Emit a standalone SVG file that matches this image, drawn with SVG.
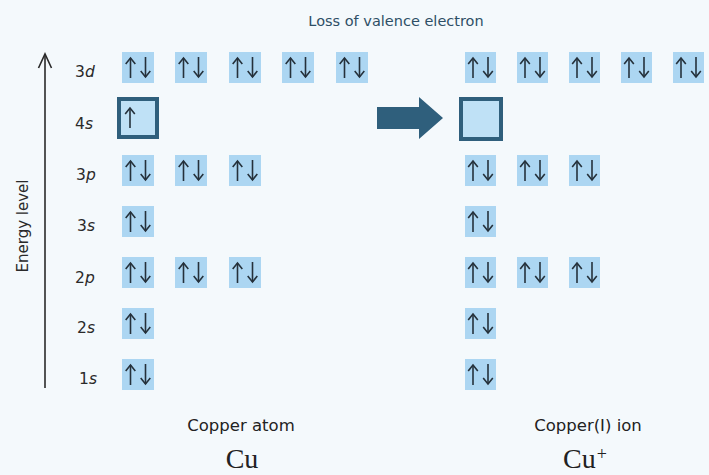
<svg xmlns="http://www.w3.org/2000/svg" xmlns:xlink="http://www.w3.org/1999/xlink" width="709" height="475" viewBox="0 0 709 475">
  <style>
    .orb { fill: #acd6f2; }
    .arr { fill: none; stroke: #25313b; stroke-width: 1.6; stroke-linejoin: miter; }
    .lvl { font-family: "DejaVu Sans", sans-serif; font-size: 15.5px; fill: #2a2a2a; }
    .lvl tspan { font-style: italic; }
    .cap { font-family: "DejaVu Sans", sans-serif; font-size: 16.5px; fill: #222; text-anchor: middle; }
    .sym { font-family: "Liberation Serif", serif; font-size: 28px; fill: #222; }
    .half { fill: #bfe1f6; stroke: #2f5f7c; stroke-width: 4; }
    .title { font-family: "DejaVu Sans", sans-serif; font-size: 14.5px; fill: #2e4f66; text-anchor: middle; }
  </style>
  <defs>
    <!-- single spin arrows, drawn around x = 0 -->
    <g id="up" class="arr">
      <line x1="0" y1="21" x2="0" y2="1"/>
      <polyline points="-4.8,7 0,1 4.8,7"/>
    </g>
    <g id="down" class="arr">
      <line x1="0" y1="0" x2="0" y2="20"/>
      <polyline points="-4.8,14 0,20 4.8,14"/>
    </g>
    <g id="pairL">
      <rect class="orb" x="0" y="0" width="32" height="31"/>
      <use xlink:href="#up" x="8.5" y="5"/>
      <use xlink:href="#down" x="23.5" y="5"/>
    </g>
    <g id="pairR">
      <rect class="orb" x="0" y="0" width="31" height="31"/>
      <use xlink:href="#up" x="8" y="5"/>
      <use xlink:href="#down" x="23" y="5"/>
    </g>
  </defs>

  <rect width="709" height="475" fill="#f4f9fc"/>

  <text class="title" x="396" y="26">Loss of valence electron</text>

  <!-- energy axis -->
  <g id="axis">
    <line x1="45" y1="54" x2="45" y2="388" stroke="#2a2a2a" stroke-width="1.6"/>
    <polyline points="38.5,68 45,54 51.5,68" fill="none" stroke="#2a2a2a" stroke-width="1.6"/>
    <text transform="translate(27.5,226) rotate(-90)" font-family="DejaVu Sans, sans-serif" font-size="15" fill="#2a2a2a" text-anchor="middle">Energy level</text>
  </g>

  <!-- sublevel labels -->
  <g id="labels">
    <text class="lvl" x="75" y="77">3<tspan>d</tspan></text>
    <text class="lvl" x="75" y="129">4<tspan>s</tspan></text>
    <text class="lvl" x="76" y="180">3<tspan>p</tspan></text>
    <text class="lvl" x="77" y="231">3<tspan>s</tspan></text>
    <text class="lvl" x="75" y="283">2<tspan>p</tspan></text>
    <text class="lvl" x="77" y="333">2<tspan>s</tspan></text>
    <text class="lvl" x="79" y="384">1<tspan>s</tspan></text>
  </g>

  <!-- Cu atom orbitals -->
  <g id="cu-atom">
    <g id="cu-3d">
      <use xlink:href="#pairL" x="122" y="52"/>
      <use xlink:href="#pairL" x="175" y="52"/>
      <use xlink:href="#pairL" x="229" y="52"/>
      <use xlink:href="#pairL" x="282" y="52"/>
      <use xlink:href="#pairL" x="336" y="52"/>
    </g>
    <g id="cu-4s">
      <rect class="half" x="119" y="99" width="38" height="38"/>
      <use xlink:href="#up" x="130" y="107"/>
    </g>
    <g id="cu-3p">
      <use xlink:href="#pairL" x="122" y="155"/>
      <use xlink:href="#pairL" x="175" y="155"/>
      <use xlink:href="#pairL" x="229" y="155"/>
    </g>
    <g id="cu-3s">
      <use xlink:href="#pairL" x="122" y="206"/>
    </g>
    <g id="cu-2p">
      <use xlink:href="#pairL" x="122" y="257"/>
      <use xlink:href="#pairL" x="175" y="257"/>
      <use xlink:href="#pairL" x="229" y="257"/>
    </g>
    <g id="cu-2s">
      <use xlink:href="#pairL" x="122" y="308"/>
    </g>
    <g id="cu-1s">
      <use xlink:href="#pairL" x="122" y="359"/>
    </g>
    <text class="cap" x="241" y="431">Copper atom</text>
    <text class="sym" x="242" y="468" text-anchor="middle">Cu</text>
  </g>

  <!-- transition arrow -->
  <g id="connectors">
    <polygon points="377,107 419,107 419,97 443,118 419,139 419,129 377,129" fill="#2f5f7c"/>
  </g>

  <!-- Cu+ ion orbitals -->
  <g id="cu-ion">
    <g id="ion-3d">
      <use xlink:href="#pairR" x="465" y="52"/>
      <use xlink:href="#pairR" x="517" y="52"/>
      <use xlink:href="#pairR" x="569" y="52"/>
      <use xlink:href="#pairR" x="621" y="52"/>
      <use xlink:href="#pairR" x="673" y="52"/>
    </g>
    <g id="ion-4s">
      <rect class="half" x="461" y="99" width="40" height="40"/>
    </g>
    <g id="ion-3p">
      <use xlink:href="#pairR" x="465" y="155"/>
      <use xlink:href="#pairR" x="517" y="155"/>
      <use xlink:href="#pairR" x="569" y="155"/>
    </g>
    <g id="ion-3s">
      <use xlink:href="#pairR" x="465" y="206"/>
    </g>
    <g id="ion-2p">
      <use xlink:href="#pairR" x="465" y="257"/>
      <use xlink:href="#pairR" x="517" y="257"/>
      <use xlink:href="#pairR" x="569" y="257"/>
    </g>
    <g id="ion-2s">
      <use xlink:href="#pairR" x="465" y="308"/>
    </g>
    <g id="ion-1s">
      <use xlink:href="#pairR" x="465" y="359"/>
    </g>
    <text class="cap" x="588" y="431">Copper(I) ion</text>
    <text class="sym" x="563" y="468">Cu<tspan font-size="18" dx="1" dy="-8.5">+</tspan></text>
  </g>
</svg>
